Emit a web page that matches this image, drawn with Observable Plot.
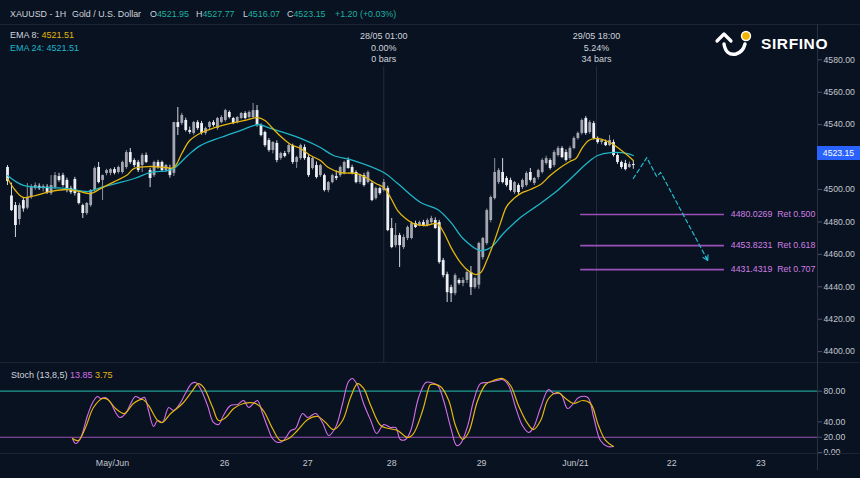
<!DOCTYPE html>
<html><head><meta charset="utf-8">
<script src="https://cdn.jsdelivr.net/npm/d3@7"></script>
<script src="https://cdn.jsdelivr.net/npm/@observablehq/plot@0.6"></script>
<style>
body{margin:0;background:#081221;}
#wrap{position:relative;width:860px;height:478px;overflow:hidden;background:#081221;font-family:"Liberation Sans",Arial,sans-serif;color:#d1d4dc;}
.abs{position:absolute;white-space:pre;}
.hl{position:absolute;left:0;width:860px;height:1px;background:#1c2434;}
#main{position:absolute;left:0;top:24px;}
#stoch{position:absolute;left:0;top:362px;}
</style></head>
<body><div id="wrap"></div>
<script>
// ---------- data ----------
const opens = [4513.6,4496.0,4490.1,4481.5,4493.2,4488.5,4495.1,4500.6,4502.0,4500.5,4501.5,4497.5,4501.2,4508.0,4508.6,4505.6,4500.6,4506.2,4497.5,4490.1,4485.2,4490.1,4499.4,4513.6,4505.6,4509.9,4510.0,4512.3,4510.5,4510.5,4513.6,4522.8,4517.9,4516.7,4514.8,4521.0,4511.7,4508.6,4516.7,4516.7,4511.7,4513.0,4510.0,4541.3,4540.7,4542.6,4536.4,4534.6,4541.3,4540.7,4534.6,4538.3,4541.3,4537.6,4541.3,4542.6,4547.5,4543.8,4541.3,4543.8,4546.9,4544.4,4544.4,4548.7,4539.5,4535.2,4530.2,4524.1,4528.4,4519.1,4522.2,4522.8,4527.1,4516.7,4519.1,4525.9,4519.7,4513.0,4514.8,4508.6,4508.6,4499.4,4504.3,4508.0,4508.6,4509.9,4517.9,4513.6,4510.5,4504.3,4508.6,4504.3,4503.7,4494.4,4500.6,4499.4,4500.6,4475.9,4465.4,4471.6,4464.2,4469.8,4469.8,4479.0,4477.8,4479.6,4477.8,4479.6,4480.9,4479.6,4456.2,4447.5,4439.5,4435.8,4443.9,4442.0,4443.9,4448.8,4439.5,4441.0,4458.0,4466.7,4480.9,4494.4,4504.3,4510.5,4506.8,4505.6,4498.1,4502.5,4501.2,4502.5,4510.5,4503.7,4507.4,4510.5,4516.0,4517.9,4514.8,4521.0,4525.3,4522.8,4519.1,4525.3,4531.5,4534.6,4543.8,4535.2,4540.7,4531.5,4529.0,4529.0,4527.1,4529.0,4521.0,4516.7,4516.0,4513.6,4515.4];
const highs = [4514.8,4504.0,4492.0,4491.5,4494.5,4503.7,4503.0,4504.0,4503.5,4503.0,4503.0,4508.6,4510.5,4510.0,4510.0,4507.0,4502.0,4507.5,4498.5,4491.0,4492.0,4500.0,4514.0,4516.7,4509.0,4512.5,4513.0,4513.5,4514.5,4517.5,4524.1,4525.3,4519.0,4518.0,4522.2,4522.5,4513.0,4517.5,4518.0,4517.5,4515.5,4515.0,4541.5,4550.6,4547.0,4544.0,4538.5,4542.0,4542.5,4542.0,4538.5,4542.0,4542.5,4544.5,4545.5,4549.5,4548.5,4544.5,4545.0,4547.5,4548.0,4548.5,4553.1,4551.8,4540.5,4536.0,4531.5,4529.5,4530.0,4523.0,4523.5,4528.0,4528.0,4520.5,4528.0,4527.5,4521.0,4520.0,4517.0,4515.5,4509.5,4505.0,4509.5,4511.5,4514.5,4517.5,4519.5,4515.0,4511.5,4509.5,4510.0,4511.5,4505.0,4501.5,4501.5,4506.2,4502.0,4482.1,4479.0,4473.0,4472.0,4477.5,4480.0,4480.5,4480.5,4481.0,4482.0,4483.5,4482.5,4481.0,4457.5,4449.0,4441.0,4448.0,4445.0,4445.5,4450.0,4452.5,4446.0,4467.5,4470.5,4488.0,4496.0,4519.1,4513.0,4519.1,4508.0,4507.0,4505.0,4503.5,4506.5,4511.0,4513.0,4507.5,4512.5,4519.0,4520.5,4519.0,4524.0,4526.5,4526.5,4524.5,4526.5,4532.5,4535.5,4543.5,4545.0,4542.5,4542.0,4532.5,4531.0,4530.5,4533.3,4530.5,4522.0,4517.5,4518.0,4517.0,4517.5];
const lows = [4502.5,4486.5,4470.4,4478.0,4486.0,4487.5,4494.0,4499.5,4499.5,4498.5,4497.0,4496.3,4500.0,4504.5,4501.5,4498.0,4497.0,4496.0,4490.5,4482.1,4484.0,4489.0,4498.5,4503.5,4493.2,4508.5,4508.5,4509.0,4509.5,4509.5,4512.5,4515.5,4513.5,4510.5,4510.5,4516.0,4501.2,4507.5,4512.5,4510.5,4510.5,4507.0,4508.0,4533.3,4539.5,4535.5,4534.0,4533.5,4536.5,4533.5,4533.5,4537.0,4538.5,4536.5,4540.5,4541.5,4543.5,4540.0,4540.5,4543.0,4543.0,4543.5,4543.5,4538.5,4532.5,4526.0,4523.0,4522.0,4516.5,4518.0,4519.5,4521.5,4515.5,4513.0,4518.0,4518.0,4507.5,4512.0,4506.5,4507.5,4498.5,4498.0,4503.5,4505.5,4507.5,4509.0,4512.5,4509.0,4503.5,4503.0,4501.5,4503.5,4492.5,4493.5,4496.5,4498.5,4474.0,4463.5,4464.0,4451.9,4463.0,4468.5,4469.0,4476.0,4477.0,4477.0,4477.0,4478.5,4475.5,4454.0,4445.5,4430.3,4430.3,4434.5,4441.0,4440.0,4442.0,4434.6,4438.5,4438.5,4456.5,4465.5,4479.5,4493.5,4503.0,4503.5,4501.5,4498.5,4497.0,4496.5,4500.0,4501.5,4504.5,4502.5,4506.0,4509.5,4515.0,4512.0,4513.5,4520.0,4519.0,4517.0,4518.0,4524.5,4530.5,4533.5,4533.5,4534.0,4530.5,4528.0,4527.5,4526.5,4526.5,4520.0,4515.5,4512.5,4511.5,4513.0,4512.5];
const closes = [4504.9,4487.0,4477.8,4490.1,4488.0,4495.1,4501.2,4502.5,4500.5,4501.9,4498.1,4502.5,4508.6,4505.6,4502.5,4499.4,4498.1,4497.5,4491.4,4485.2,4491.4,4499.4,4513.0,4504.3,4508.6,4511.7,4512.3,4510.0,4513.6,4516.7,4522.8,4516.7,4514.8,4511.7,4521.0,4516.7,4506.8,4516.7,4513.6,4511.7,4514.8,4508.6,4541.3,4538.3,4545.7,4536.4,4535.2,4541.3,4537.6,4534.6,4537.6,4541.3,4539.5,4543.8,4544.4,4548.7,4544.4,4540.7,4544.4,4546.9,4543.8,4547.5,4548.7,4539.5,4533.3,4527.1,4524.1,4529.0,4517.9,4522.2,4520.4,4527.1,4516.7,4519.7,4527.1,4519.1,4508.6,4519.1,4507.4,4514.8,4499.4,4504.3,4508.6,4506.8,4513.6,4516.7,4513.0,4509.9,4504.3,4508.6,4502.5,4510.5,4493.2,4500.6,4497.5,4504.3,4474.7,4464.2,4471.6,4465.4,4470.4,4476.6,4479.0,4476.6,4479.6,4477.8,4480.9,4482.1,4475.9,4455.0,4446.9,4436.4,4435.8,4446.9,4442.0,4443.9,4448.8,4439.5,4445.1,4466.7,4469.8,4487.0,4495.1,4510.5,4511.7,4504.3,4502.5,4499.4,4504.3,4498.1,4505.6,4509.9,4505.6,4506.8,4511.7,4517.9,4519.1,4513.0,4522.8,4525.3,4519.7,4517.9,4525.3,4531.5,4534.6,4542.6,4534.6,4541.3,4531.5,4529.0,4530.2,4527.1,4530.2,4521.0,4516.7,4513.6,4512.3,4515.4,4514.8];

const ema8Bars = [0,2,4,7,11,15,18,21,23.5,27,30,32,36,40,42,44,46,49,52.5,56,60,63,65,67,69,71.5,74,76.5,79,81,84,88,90.5,93,95,96.7,98.5,100.5,102.5,105.5,108.5,110,112,114,116,118,119.5,121,122.7,124.5,126,127.8,129.5,132,134.6,137,139.6,142,143.5,145,146.7,148.5,151,153,155,156.6,158];
const ema8Vals = [4506.8,4499.4,4495.1,4496.3,4498.8,4500.0,4498.8,4497.5,4500.6,4504.9,4508.6,4513.0,4514.2,4513.6,4513.6,4522.2,4530.2,4535.2,4538.3,4540.7,4542.6,4544.4,4542.6,4537.6,4532.7,4527.8,4525.3,4521.0,4517.9,4513.6,4510.5,4509.9,4507.4,4503.7,4501.2,4495.1,4487.0,4482.1,4479.0,4477.8,4479.0,4474.1,4464.2,4456.2,4450.6,4447.6,4448.8,4456.2,4466.7,4479.6,4489.5,4494.4,4497.5,4500.0,4503.1,4508.6,4513.6,4517.3,4519.1,4525.3,4530.2,4531.5,4530.2,4527.8,4524.1,4521.0,4517.9];
const ema24Bars = [0,4,11,15,20.5,23.5,32,36,40.4,42,45.5,48.7,53.8,58.8,63.4,65.7,69.7,74,79,82.3,87.4,95,98.5,104.3,108.6,112,115,119.4,122,125.2,129.5,133.8,137.9,142.2,146.5,149,152.3,156.6,158];
const ema24Vals = [4508.6,4502.5,4501.2,4500.6,4498.8,4501.2,4506.8,4510.5,4511.7,4513.0,4521.0,4527.1,4532.1,4536.4,4540.1,4538.3,4535.2,4531.5,4525.9,4521.0,4517.9,4510.5,4503.7,4492.0,4487.7,4479.6,4469.8,4462.3,4464.2,4472.9,4482.7,4490.1,4497.5,4506.8,4516.7,4521.0,4522.8,4522.2,4521.0];

const stochKBars = [16.4,17.2,18.4,20.2,21.5,22.7,23.5,24.7,26,27.3,28.3,29.8,31.1,32.3,33.6,34.6,35.6,36.9,37.9,39.1,40.7,41.9,43.7,44.9,46.5,47.5,48.7,50.5,52,53.3,54.5,56.3,58.1,59.6,60.9,62.1,63.1,64.4,65.7,66.9,68.2,69.7,71.5,72.7,74.5,75.8,77.8,79.5,81.1,82.8,84.6,86.1,87.1,88.4,89.9,91.7,93.2,95,96.7,98,99.2,100.5,101.8,103.8,105.6,106.8,108.6,110.1,111.9,113.4,114.4,116.2,117.7,119.4,121.2,123.7,125,126.5,128.3,130,131.6,132.8,134.6,136.6,137.9,139.6,141.4,142.9,144.2,146.5,148,149.7,151.5,153];
const stochKVals = [18.3,11.7,18.3,48.3,65.3,73.1,70.5,71.8,65.3,52.2,45.7,50.9,64,73.1,70.5,71.8,54.8,33.9,41.8,39.2,58.7,54.8,65.3,77,90,91.4,83.6,61.4,39.2,36.6,48.3,61.4,62.7,67.9,58.7,64,67.9,50.9,32.6,18.3,13.1,15.7,28.7,31.3,50.9,45.7,50.9,39.2,22.2,32.6,64,92.7,96.6,87.5,64,41.8,24.8,36.6,32.6,32.6,17,17,28.7,71.8,91.4,91.4,87.5,67.9,32.6,9.1,11.7,35.2,67.9,90,91.4,94,95.3,87.5,58.7,35.2,26.1,32.6,58.7,82.2,77,77,57.4,64,71.8,71.8,45.7,15.7,7.8,7.8];
const stochDBars = [16.4,17.9,19.7,21.7,24,25.3,27.3,29.5,31.8,34.1,35.6,37.9,39.1,41.2,44.2,46.7,48.2,49.5,51.8,53.3,55.1,57.1,59.6,62.6,64.6,66.9,68.9,71,73.2,75.8,78.3,80.3,82.3,84.6,86.6,88.4,89.9,91.7,94.2,96.2,98.5,101,102.5,104.8,106.3,106.8,109.3,111.4,113.1,114.9,116.4,118.7,120.7,122.7,125,127,129,131.3,132.8,134.6,136.6,138.9,140.9,142.9,145.2,147.2,149.2,151,153];
const stochDVals = [18.3,15.7,32.6,58.7,70.5,69.2,57.4,50.9,64,69.2,61.4,41.8,39.2,50.9,64,80.9,90,84.9,58.7,41.8,45.7,57.4,64,64,54.8,31.3,15.7,18.3,28.7,43.1,47,39.2,30,41.8,71.8,90,83.6,61.4,35.2,31.3,28.7,19.6,24.8,54.8,83.6,88.8,86.2,67.9,35.2,17,26.1,67.9,88.8,94,96.6,87.5,61.4,37.9,30,41.8,70.5,78.3,70.5,64,67.9,64,35.2,15.7,7.8];

const fibLevels = [4484.6, 4465.4, 4450.6];          // drawn positions
const fibPrices = ["4480.0269", "4453.8231", "4431.4319"];
const fibRatios = ["0.500", "0.618", "0.707"];
const fibStartBar = 144.7, fibEndBar = 181, fibLabelBar = 182.6;

const projBars = [158, 161.4, 163.9, 164.9, 176.8];
const projVals = [4506.8, 4519.7, 4508.0, 4510.5, 4456.2];

const measureBars = [95, 148.7];
const measureLabels = ["28/05 01:00\n0.00%\n0 bars", "29/05 18:00\n5.24%\n34 bars"];

const dayTicks = [26.5, 54.8, 75.8, 97, 119.7, 143.4, 167.7, 190.2];
const dayLabels = ["May/Jun", "26", "27", "28", "29", "Jun/21", "22", "23"];

const priceTicks = [4400, 4420, 4440, 4460, 4480, 4500, 4540, 4560, 4580];
const stochTicks = [0, 20, 40, 80];
const lastPrice = 4523.15;

// ---------- build ----------
const FONT = "Liberation Sans, Arial, sans-serif";
const xDomain = [-1.77, 204.5];
const yDomain = [4393.3, 4601.8];
const candles = opens.map((o, i) => ({i, o, h: highs[i], l: lows[i], c: closes[i], up: closes[i] >= o}));
const upC = candles.filter(d => d.up), dnC = candles.filter(d => !d.up);
const e8 = ema8Bars.map((b, i) => ({b, v: ema8Vals[i]}));
const e24 = ema24Bars.map((b, i) => ({b, v: ema24Vals[i]}));
const fib = fibLevels.map((v, i) => ({v, label: fibPrices[i] + "  Ret " + fibRatios[i]}));
const proj = projBars.map((b, i) => ({b, v: projVals[i]}));
const n = proj.length;
const arrowSeg = [{x1: proj[n-2].b, y1: proj[n-2].v, x2: proj[n-1].b, y2: proj[n-1].v}];
const measure = measureBars.map((b, i) => ({b, t: measureLabels[i]}));

const UP = "#a3a6b0", DN = "#eef0f5";
const main = Plot.plot({
  width: 860, height: 338,
  marginLeft: 0, marginRight: 43, marginTop: 0, marginBottom: 0,
  style: {background: "transparent", color: "#b2b5be", fontFamily: FONT, fontSize: "8.7px", overflow: "visible"},
  x: {domain: xDomain, axis: null},
  y: {domain: yDomain, axis: null},
  marks: [
    Plot.ruleX(measure, {x: "b", y1: 4576, y2: yDomain[0], stroke: "#222c3d", strokeWidth: 1}),
    Plot.text(measure, {x: "b", text: "t", frameAnchor: "top", dy: 6.5, lineHeight: 1.28, fill: "#d1d4dc", fontSize: 9}),
    Plot.ruleY(fib, {y: "v", x1: fibStartBar, x2: fibEndBar, stroke: "#9c4fb8", strokeWidth: 1.6}),
    Plot.text(fib, {y: "v", x: fibLabelBar, text: "label", textAnchor: "start", fill: "#cf7fe3", fontSize: 8.8}),
    Plot.ruleX(upC, {x: "i", y1: "l", y2: "h", stroke: "#8f929c", strokeWidth: 1}),
    Plot.ruleX(dnC, {x: "i", y1: "l", y2: "h", stroke: "#d5d8df", strokeWidth: 1}),
    Plot.ruleX(upC, {x: "i", y1: "o", y2: "c", stroke: UP, strokeWidth: 2.8}),
    Plot.ruleX(dnC, {x: "i", y1: "o", y2: "c", stroke: DN, strokeWidth: 2.8}),
    Plot.line(e24, {x: "b", y: "v", stroke: "#1fb6c8", strokeWidth: 1.3, curve: "catmull-rom"}),
    Plot.line(e8, {x: "b", y: "v", stroke: "#e4b60e", strokeWidth: 1.3, curve: "catmull-rom"}),
    Plot.line(proj, {x: "b", y: "v", stroke: "#27b9cc", strokeWidth: 1.2, strokeDasharray: "4,3"}),
    Plot.arrow(arrowSeg, {x1: "x1", y1: "y1", x2: "x2", y2: "y2", stroke: "#27b9cc", strokeWidth: 1.2, headLength: 7, insetStart: 95}),
    Plot.axisY({anchor: "right", label: null, ticks: priceTicks, tickFormat: d => d.toFixed(2), tickSize: 4, tickPadding: 2, stroke: "#4a5162", fill: "#c3c6ce", fontSize: 8.7})
  ]
});
main.id = "main";

const kData = stochKBars.map((b, i) => ({b, v: stochKVals[i]}));
const dData = stochDBars.map((b, i) => ({b, v: stochDVals[i]}));
const dayMap = new Map(dayTicks.map((t, i) => [t, dayLabels[i]]));
const stoch = Plot.plot({
  width: 860, height: 116,
  marginLeft: 0, marginRight: 43, marginTop: 0, marginBottom: 25,
  style: {background: "transparent", color: "#b2b5be", fontFamily: FONT, fontSize: "8.7px", overflow: "visible"},
  x: {domain: xDomain, axis: null},
  y: {domain: [-1.3, 117.5], axis: null},
  marks: [
    Plot.ruleY([80], {stroke: "#1e9e90", strokeWidth: 1.3}),
    Plot.ruleY([20], {stroke: "#9a52b6", strokeWidth: 1.1}),
    Plot.line(kData, {x: "b", y: "v", stroke: "#d46ee9", strokeWidth: 1.1, curve: "catmull-rom"}),
    Plot.line(dData, {x: "b", y: "v", stroke: "#e4b60e", strokeWidth: 1.2, curve: "catmull-rom"}),
    Plot.axisY({anchor: "right", label: null, ticks: stochTicks, tickFormat: d => d.toFixed(2), tickSize: 4, tickPadding: 2, stroke: "#4a5162", fill: "#c3c6ce", fontSize: 8.7}),
    Plot.axisX({label: null, ticks: dayTicks, tickFormat: d => dayMap.get(d), tickSize: 0, tickPadding: 6, fill: "#c3c6ce", fontSize: 8.8})
  ]
});
stoch.id = "stoch";

const wrap = document.getElementById("wrap");
wrap.appendChild(main);
wrap.appendChild(stoch);

function addDiv(html, css, cls = "abs") {
  const d = document.createElement("div");
  d.className = cls;
  d.style.cssText = css;
  d.innerHTML = html;
  wrap.appendChild(d);
  return d;
}
// separators & price axis line
addDiv("", "top:24px;", "hl");
addDiv("", "top:362px;", "hl");
addDiv("", "top:453px;", "hl");
addDiv("", "left:817px;top:24px;width:1px;height:446px;background:#2a3242;");

// header
const T = "#d1d4dc", G = "#1fb0a0";
const hdr = [
  [10, "XAUUSD - 1H", T], [72, "Gold / U.S. Dollar", T],
  [150, "O<span style='color:" + G + "'>4521.95</span>", T],
  [196, "H<span style='color:" + G + "'>4527.77</span>", T],
  [243, "L<span style='color:" + G + "'>4516.07</span>", T],
  [287, "C<span style='color:" + G + "'>4523.15</span>", T],
  [335, "+1.20 (+0.03%)", G]
];
hdr.forEach(([x, h, c]) => addDiv(h, `left:${x}px;top:8px;font-size:8.9px;line-height:12px;color:${c};`));
addDiv("EMA 8: <span style='color:#e4b60e'>4521.51</span>", "left:10px;top:29px;font-size:9px;line-height:12px;color:#d1d4dc;");
addDiv("EMA 24: 4521.51", "left:10px;top:42px;font-size:9px;line-height:12px;color:#1fb6c8;");
addDiv("Stoch (13,8,5) <span style='color:#d46ee9'>13.85</span> <span style='color:#e4b60e'>3.75</span>", "left:11px;top:369px;font-size:9px;line-height:12px;color:#d1d4dc;");

// current price label
const py = main.scale("y").apply(lastPrice) + 24;
addDiv(lastPrice.toFixed(2), `left:817px;top:${py - 5}px;width:43px;height:14px;background:#2962ff;color:#fff;font-size:8.7px;line-height:14px;text-align:center;`);

// logo
addDiv(`<svg width="40" height="32" viewBox="0 0 40 32">
  <path d="M3 12 L10 5 L17 12" fill="none" stroke="#fff" stroke-width="3.2" stroke-linecap="round" stroke-linejoin="round"/>
  <path d="M10 15 Q12 27 22 25 Q29 23 31 15" fill="none" stroke="#fff" stroke-width="3.4" stroke-linecap="round"/>
  <circle cx="32" cy="7" r="5.2" fill="#fff"/>
  <circle cx="32" cy="7" r="3.8" fill="#f5b400"/>
</svg>`, "left:714px;top:29px;");
addDiv("SIRFINO", "left:761px;top:34px;font-size:15.5px;font-weight:bold;letter-spacing:0.6px;color:#fff;line-height:20px;font-family:'Liberation Sans',Arial,sans-serif;");
</script>
</body></html>
